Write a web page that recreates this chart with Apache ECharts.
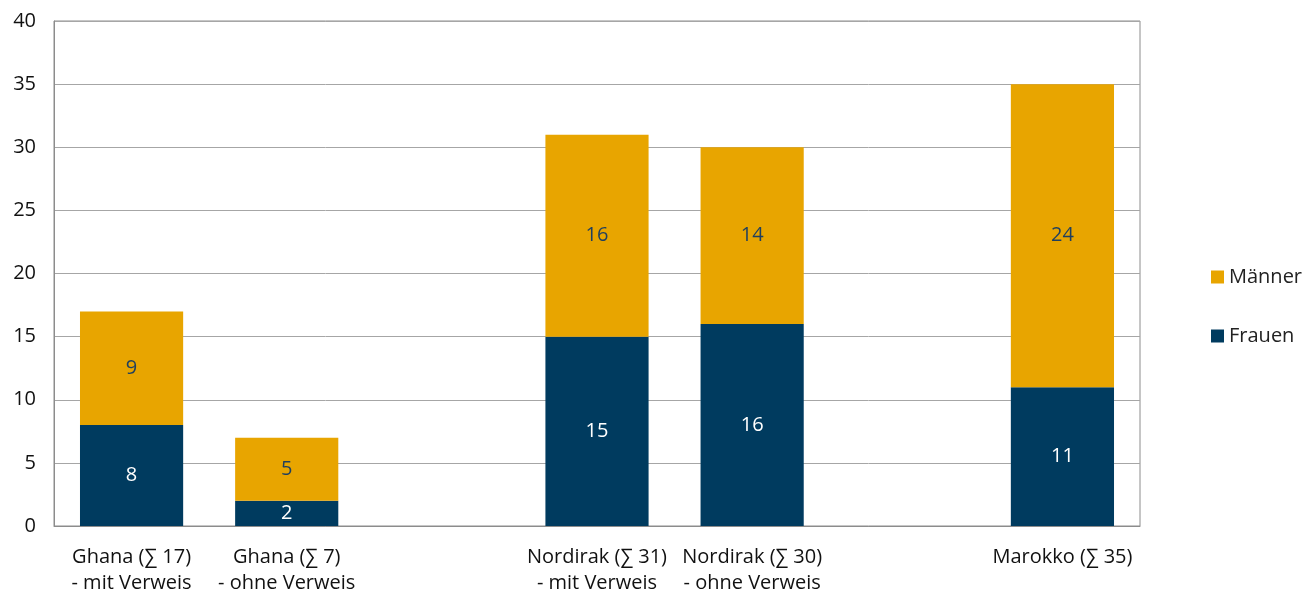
<!DOCTYPE html>
<html>
<head>
<meta charset="utf-8">
<script src="https://cdn.jsdelivr.net/npm/echarts@6/dist/echarts.min.js"></script>
<style>
  html, body { margin: 0; padding: 0; background: #fff; }
  #chart { width: 1303px; height: 593px; }
</style>
</head>
<body>
<div id="chart"></div>
<script>
// categories (blank slots keep the gaps between countries)
var categories = [
  'Ghana (∑ 17)\n- mit Verweis',
  'Ghana (∑ 7)\n- ohne Verweis',
  '',
  'Nordirak (∑ 31)\n- mit Verweis',
  'Nordirak (∑ 30)\n- ohne Verweis',
  '',
  'Marokko (∑ 35)'
]
var frauen = [8, 2, null, 15, 16, null, 11]
var maenner = [9, 5, null, 16, 14, null, 24]

var chartDom = document.getElementById('chart')
var myChart = echarts.init(chartDom)
var font = 'Open Sans'
var option = {
  animation: false,
  textStyle: { fontFamily: font },
  grid: {
    left: 54,
    right: 163,
    top: 21,
    bottom: 67,
    outerBoundsMode: 'none',
    containLabel: false,
    show: true,
    borderColor: '#8c8c8c',
    borderWidth: 1,
  },
  legend: {
    orient: 'vertical',
    left: 1206,
    top: 262,
    itemGap: 39,
    itemWidth: 13,
    itemHeight: 13,
    icon: 'rect',
    data: ['Männer', 'Frauen'],
    textStyle: { fontFamily: font, fontSize: 20, color: '#222' },
  },
  xAxis: {
    type: 'category',
    data: categories,
    axisTick: { show: false },
    axisLine: { lineStyle: { color: '#8c8c8c' } },
    axisLabel: {
      interval: 0,
      color: '#111',
      fontSize: 20,
      lineHeight: 26,
      margin: 18,
    },
  },
  yAxis: {
    type: 'value',
    min: 0,
    max: 40,
    interval: 5,
    axisLine: { show: true, lineStyle: { color: '#8c8c8c' } },
    splitLine: { lineStyle: { color: '#a6a6a6' } },
    axisLabel: { color: '#111', fontSize: 20, margin: 18 },
  },
  series: [
    {
      name: 'Frauen',
      type: 'bar',
      stack: 'total',
      data: frauen,
      barWidth: '66.5%',
      itemStyle: { color: '#003b5f' },
      label: { show: true, position: 'inside', color: '#fff', fontSize: 20, fontFamily: font },
    },
    {
      name: 'Männer',
      type: 'bar',
      stack: 'total',
      data: maenner,
      barWidth: '66.5%',
      itemStyle: { color: '#e8a500' },
      label: { show: true, position: 'inside', color: '#1f3f5f', fontSize: 20, fontFamily: font },
    },
  ],
}
option && myChart.setOption(option)
window.onresize = () => {
  myChart.resize()
}
</script>
</body>
</html>
